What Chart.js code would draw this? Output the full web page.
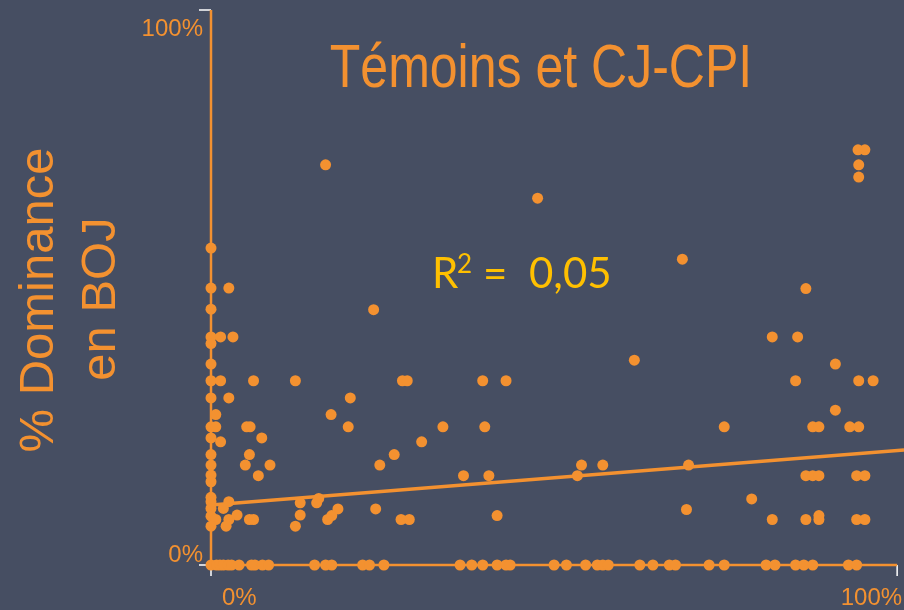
<!DOCTYPE html>
<html>
<head>
<meta charset="utf-8">
<script src="https://cdn.jsdelivr.net/npm/chart.js@4.4.1/dist/chart.umd.min.js"></script>
<style>
  html, body { margin: 0; padding: 0; background: #464e62; }
  #wrap { width: 904px; height: 610px; }
</style>
</head>
<body>
<div id="wrap"><canvas id="myChart" width="904" height="610"></canvas></div>
<script>
// x and y of every subject, in %
const xPct = [
    0, 0, 2.6, 0, 0, 0, 1.4, 3.2, 0, 0, 1.4, 6.2, 12.3, 0, 2.6, 0.7, 0, 0.7, 5.2, 5.7,
    0, 1.4, 7.4, 0, 5.6, 0, 5.0, 8.6, 0, 0, 6.9, 0, 0, 2.6, 0, 1.8, 0, 0.7, 2.6, 3.8,
    5.6, 6.2, 0, 2.2, 13.0, 13.0, 12.3,
    16.7, 47.6, 23.7, 27.9, 28.6, 39.6, 43.0, 20.3, 17.5, 20.0, 33.8, 39.9, 30.7, 26.7,
    24.6, 36.8, 40.5, 53.4, 54.0, 15.7, 15.4, 18.5, 24.0, 17.6, 17.0, 27.7, 28.9, 41.7,
    94.3, 95.3, 94.4, 94.4, 68.7, 86.7, 61.7, 81.8, 85.5, 91.0, 85.2, 94.4, 96.5, 91.0,
    74.8, 87.7, 88.6, 93.1, 94.4, 57.1, 69.6, 86.7, 87.7, 88.6, 94.1, 95.3, 78.8, 69.3,
    81.8, 86.7, 88.6, 88.6, 94.1, 95.3,
    0, 0.8, 1.3, 1.8, 2.5, 3.0, 4.1, 5.9, 6.4, 7.5, 8.4,
    15.1, 16.7, 17.6, 22.1, 23.1, 25.2, 36.3, 38.0, 39.6, 41.7, 43.0, 43.6, 50.0, 51.8,
    54.6, 56.3, 57.1, 57.9, 62.5, 64.4, 66.8, 67.7, 72.6, 74.8, 80.9, 82.2, 85.2, 86.4,
    87.7, 92.9, 94.1
];
const yPct = [
    57.1, 49.9, 49.9, 46.1, 41.1, 39.9, 41.1, 41.1, 36.2, 33.2, 33.2, 33.2, 33.2, 30.1, 30.1, 27.1, 24.9, 24.9, 24.9, 24.9,
    22.9, 22.2, 22.9, 19.9, 19.9, 18.0, 18.0, 18.0, 16.2, 15.0, 16.1, 12.2, 11.4, 11.4, 10.2, 10.2, 8.8, 8.2, 8.2, 9.0,
    8.2, 8.2, 7.0, 7.0, 11.2, 9.0, 7.0,
    72.1, 66.1, 46.0, 33.2, 33.2, 33.2, 33.2, 30.1, 27.1, 24.9, 24.9, 24.9, 22.2, 19.9,
    18.0, 16.1, 16.1, 16.1, 18.0, 12.0, 11.2, 10.1, 10.1, 8.9, 8.2, 8.2, 8.2, 8.9,
    74.8, 74.8, 72.1, 69.9, 55.1, 49.8, 36.9, 41.1, 41.1, 36.2, 33.2, 33.2, 33.2, 27.9,
    24.9, 24.9, 24.9, 24.9, 24.9, 18.0, 18.0, 16.1, 16.1, 16.1, 16.1, 16.1, 11.9, 10.0,
    8.2, 8.2, 8.9, 8.2, 8.2, 8.2,
    0, 0, 0, 0, 0, 0, 0, 0, 0, 0, 0,
    0, 0, 0, 0, 0, 0, 0, 0, 0, 0, 0, 0, 0, 0,
    0, 0, 0, 0, 0, 0, 0, 0, 0, 0, 0, 0, 0, 0,
    0, 0, 0
];

// trend line end points
const trendX = [0, 101];
const trendY = [10.8, 20.7];

const xTickLabels = ['0%', '100%'];
const yTickLabels = ['0%', '100%'];
const chartTitle = 'Témoins et CJ-CPI';
const yTitle = ['% Dominance', 'en BOJ'];
const r2Value = '0,05';

const orange = '#f39130';
const yellow = '#ffc000';
const bg = '#464e62';

const points = xPct.map((x, i) => ({ x: x, y: yPct[i] }));
const trend = trendX.map((x, i) => ({ x: x, y: trendY[i] }));

const decor = {
    id: 'decor',
    beforeDraw(chart) {
        const c = chart.ctx;
        c.save();
        c.fillStyle = bg;
        c.fillRect(0, 0, chart.width, chart.height);
        c.restore();
    },
    beforeDatasetsDraw(chart) {
        const c = chart.ctx;
        const xs = chart.scales.x, ys = chart.scales.y;
        const x0 = xs.getPixelForValue(0), x1 = xs.getPixelForValue(100);
        const y0 = ys.getPixelForValue(0), y1 = ys.getPixelForValue(100);
        c.save();
        // small white tick stubs
        c.strokeStyle = '#ffffff';
        c.lineWidth = 1.5;
        c.beginPath();
        c.moveTo(x0 - 12, y1); c.lineTo(x0, y1);
        c.moveTo(x0 - 12, y0); c.lineTo(x0, y0);
        c.moveTo(x0, y0); c.lineTo(x0, y0 + 11);
        c.moveTo(x1, y0); c.lineTo(x1, y0 + 11);
        c.stroke();
        // axes
        c.strokeStyle = orange;
        c.lineWidth = 2.5;
        c.beginPath();
        c.moveTo(x0, y1); c.lineTo(x0, y0);
        c.lineTo(x1, y0);
        c.stroke();
        c.restore();
    },
    afterDraw(chart) {
        const c = chart.ctx;
        const xs = chart.scales.x, ys = chart.scales.y;
        const x0 = xs.getPixelForValue(0), x1 = xs.getPixelForValue(100);
        const y0 = ys.getPixelForValue(0), y1 = ys.getPixelForValue(100);
        c.save();
        c.fillStyle = orange;
        c.font = '24px "Liberation Sans", Arial, sans-serif';
        c.textBaseline = 'alphabetic';
        // y tick labels
        c.textAlign = 'right';
        c.fillText(yTickLabels[1], x0 - 8, y1 + 26);
        c.fillText(yTickLabels[0], x0 - 8, y0 - 3);
        // x tick labels
        c.textAlign = 'left';
        c.fillText(xTickLabels[0], x0 + 11, y0 + 40);
        c.textAlign = 'right';
        c.fillText(xTickLabels[1], x1 + 5, y0 + 40);

        // title (narrow face)
        c.save();
        c.translate(541, 87);
        c.scale(0.82, 1);
        c.textAlign = 'center';
        c.font = '61px "Liberation Sans", Arial, sans-serif';
        c.fillText(chartTitle, 0, 0);
        c.restore();

        // y axis title
        c.font = '49px "Liberation Sans", Arial, sans-serif';
        c.textAlign = 'center';
        c.save();
        c.translate(53, 300);
        c.rotate(-Math.PI / 2);
        c.fillText(yTitle[0], 0, 0);
        c.restore();
        c.save();
        c.translate(115, 299);
        c.rotate(-Math.PI / 2);
        c.fillText(yTitle[1], 0, 0);
        c.restore();

        // R2 label
        c.fillStyle = yellow;
        c.textAlign = 'left';
        c.font = '42px Lato, "Open Sans", sans-serif';
        c.fillText('R', 432, 288);
        c.font = '26px Lato, "Open Sans", sans-serif';
        c.fillText('2', 457, 273);
        c.font = '42px Lato, "Open Sans", sans-serif';
        c.fillText('=', 483, 288);
        c.fillText(r2Value, 529, 288);
        c.restore();
    }
};

const ctx = document.getElementById('myChart').getContext('2d');
const domChart = new Chart(ctx, {
    type: 'scatter',
    data: {
        datasets: [{
            label: 'Sujets',
            data: points,
            pointRadius: 5.5,
            pointBackgroundColor: orange,
            pointBorderWidth: 0,
            clip: false
        }, {
            type: 'line',
            label: 'Tendance',
            data: trend,
            showLine: true,
            borderColor: orange,
            borderWidth: 3.5,
            pointRadius: 0,
            fill: false,
            clip: false
        }]
    },
    options: {
        responsive: false,
        animation: false,
        layout: {
            autoPadding: false,
            padding: { left: 211, right: 0, top: 10, bottom: 45 }
        },
        plugins: {
            legend: { display: false },
            tooltip: { enabled: false }
        },
        scales: {
            x: { type: 'linear', min: 0, max: 101, display: false },
            y: { type: 'linear', min: 0, max: 100, display: false }
        }
    },
    plugins: [decor]
});
</script>
</body>
</html>
